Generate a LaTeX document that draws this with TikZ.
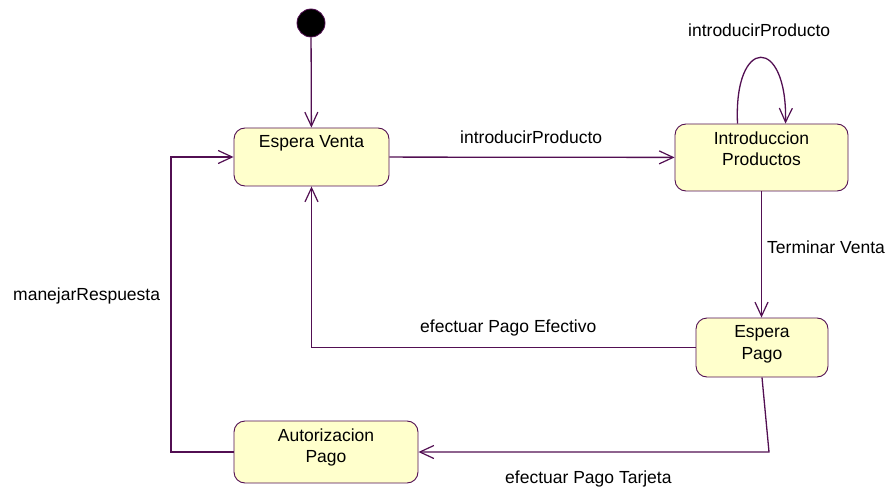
\documentclass[tikz,border=0pt]{standalone}
\usepackage{fontspec}
\setmainfont{Liberation Sans}
\usetikzlibrary{arrows.meta}
\definecolor{edgec}{HTML}{520F52}
\definecolor{statefill}{HTML}{FFFFCC}
\newcommand\sttext[3]{\parbox[c][#1][t]{#2}{\centering\vspace*{7.5pt}#3}}
\tikzset{
  statebox/.style={draw=edgec, line width=0.9pt, fill=statefill, rounded corners=11pt, inner sep=0pt},
  conn/.style={draw=edgec, line width=1.3pt, -{Straight Barb[length=14pt,width=13pt,line width=1.2pt]}},
  lbl/.style={inner sep=0pt, anchor=base west},
}
\begin{document}
\begin{tikzpicture}[x=1pt,y=-1pt,font=\fontsize{17.5}{21.5}\selectfont]
\useasboundingbox (0,0) rectangle (888,489);
\node[circle, fill=black, draw=edgec, line width=0.8pt, minimum size=28pt, inner sep=0pt] (init) at (311,23) {};
\node[statebox] (ev) at (311.5,157) {\sttext{58pt}{155pt}{Espera Venta}};
\node[statebox] (intro) at (761.5,157.5) {\sttext{67pt}{173pt}{Introduccion\\Productos}};
\node[statebox] (ep) at (762,347.5) {\sttext{59pt}{132pt}{Espera\\Pago}};
\node[statebox] (ap) at (326,452) {\sttext{62pt}{184pt}{Autorizacion\\Pago}};
\coordinate (c1) at (769,452);
\coordinate (c2) at (171,452);

\draw[conn] (init) -- (ev);
\draw[conn] (ev) -- (intro);
\draw[conn] ([xshift=-24pt]intro.north) .. controls ([xshift=-28pt,yshift=88pt]intro.north) and ([xshift=26pt,yshift=88pt]intro.north) .. ([xshift=24pt]intro.north);
\draw[conn] (intro.south) -- (intro.south |- ep.north);
\draw[conn] (ep.west) -| (ev.south);
\draw[conn] (ep.south) -- (c1) -- (ap.east);
\draw[conn] (ap.west) -- (c2) |- (ev.west);

\node[lbl] (l1) at (460,144) {introducirProducto};
\node[lbl] (l2) at (688,37) {introducirProducto};
\node[lbl] (l3) at (767,253) {Terminar Venta};
\node[lbl] (l4) at (420,332) {efectuar Pago Efectivo};
\node[lbl] (l5) at (505,483) {efectuar Pago Tarjeta};
\node[lbl] (l6) at (13,300) {manejarRespuesta};
\end{tikzpicture}
\end{document}
